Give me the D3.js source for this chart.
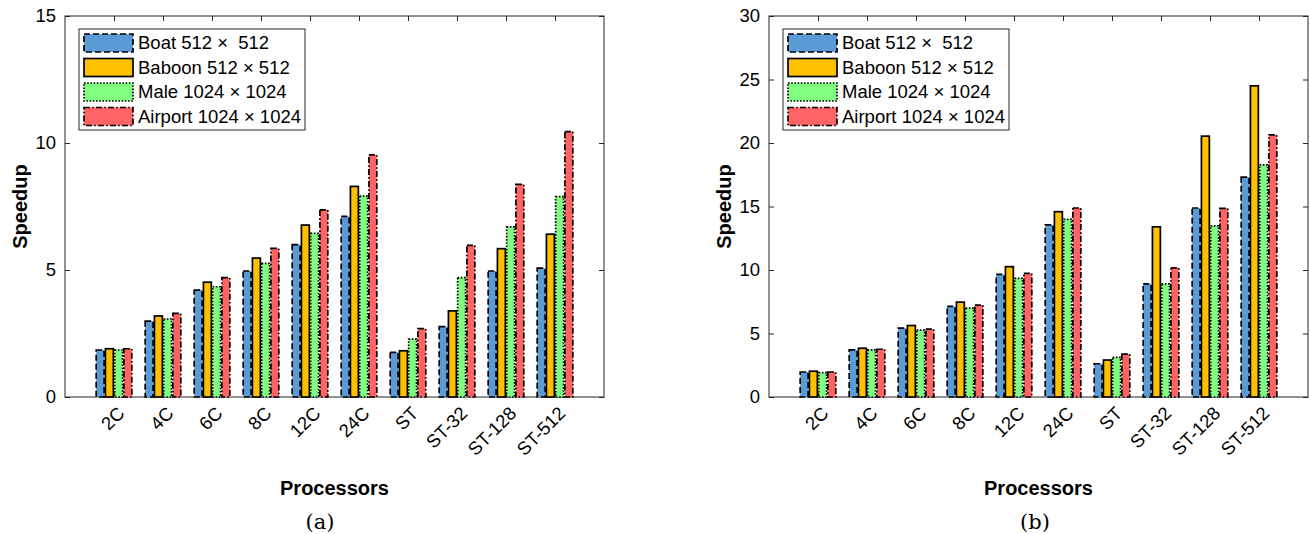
<html>
  <head>
    <title>Speedup bars</title>
    <script src="https://d3js.org/d3.v7.min.js"></script>
    <style>
      body {
        margin: 0;
        background-color: #fff;
        font-family: "Liberation Sans", Arial, sans-serif;
      }
    </style>
  </head>
  <body>
    <svg width="1310" height="534"></svg>

    <script>
      // data
      var categories = ["2C", "4C", "6C", "8C", "12C", "24C", "ST", "ST-32", "ST-128", "ST-512"];
      var seriesNames = ["Boat 512 \u00d7  512", "Baboon 512 \u00d7 512", "Male 1024 \u00d7 1024", "Airport 1024 \u00d7 1024"];

      var boatA    = [1.85, 2.99, 4.21, 4.96, 6.00, 7.11, 1.76, 2.77, 4.96, 5.07];
      var baboonA  = [1.90, 3.19, 4.52, 5.47, 6.77, 8.29, 1.82, 3.39, 5.84, 6.41];
      var maleA    = [1.85, 3.07, 4.34, 5.26, 6.44, 7.91, 2.28, 4.70, 6.70, 7.89];
      var airportA = [1.90, 3.29, 4.70, 5.85, 7.37, 9.53, 2.69, 5.97, 8.37, 10.45];

      var boatB    = [1.97, 3.71, 5.42, 7.13, 9.65, 13.56, 2.62, 8.90, 14.88, 17.32];
      var baboonB  = [2.03, 3.84, 5.63, 7.47, 10.26, 14.59, 2.91, 13.40, 20.54, 24.50];
      var maleB    = [1.92, 3.71, 5.26, 7.00, 9.34, 13.99, 3.12, 8.90, 13.48, 18.27];
      var airportB = [1.97, 3.76, 5.34, 7.24, 9.73, 14.88, 3.38, 10.17, 14.86, 20.64];

      var yTicksA = [0, 5, 10, 15];
      var yTicksB = [0, 5, 10, 15, 20, 25, 30];

      // bar looks: fill + edge dash per series
      var fills = ["#5b9bd5", "#ffc000", "#80ff80", "#ff6363"];
      var dashes = ["6,3", null, "1.6,1.6", "6,2.2,1.6,2.2"];

      var axisColor = "#262626";
      var svg = d3.select("svg");

      var drawPanel = function(opts){
        var left = opts.left, top = 16, width = 539, height = 381;
        var g = svg.append("g").attr("transform", "translate(" + left + "," + top + ")");

        var x = d3.scaleLinear().domain([0, categories.length + 1]).range([0, width]);
        var y = d3.scaleLinear().domain([0, opts.ymax]).range([height, 0]);
        var inner = d3.scaleBand()
          .domain(d3.range(seriesNames.length))
          .range([-0.3636 * x(1), 0.3636 * x(1)])
          .paddingInner(0.14);

        // axes (ticks point inward, box on all four sides)
        var tickLen = 5;
        g.append("g")
          .call(d3.axisLeft(y).tickValues(opts.yTicks).tickSize(-tickLen).tickPadding(9).tickFormat(d3.format("d")))
          .call(function(a){
            a.select(".domain").remove();
            a.selectAll("text").style("font-size", "18.5px").style("font-family", "Liberation Sans, Arial, sans-serif").attr("fill", "#000");
            a.selectAll("line").attr("stroke", axisColor);
          });
        g.append("g")
          .attr("transform", "translate(" + width + ",0)")
          .call(d3.axisRight(y).tickValues(opts.yTicks).tickSize(-tickLen).tickFormat(""))
          .call(function(a){ a.select(".domain").remove(); a.selectAll("line").attr("stroke", axisColor); });

        var catTicks = d3.range(1, categories.length + 1);
        g.append("g")
          .call(d3.axisTop(x).tickValues(catTicks).tickSize(-tickLen).tickFormat(""))
          .call(function(a){ a.select(".domain").remove(); a.selectAll("line").attr("stroke", axisColor); });
        g.append("g")
          .attr("transform", "translate(0," + height + ")")
          .call(d3.axisBottom(x).tickValues(catTicks).tickSize(-tickLen).tickFormat(""))
          .call(function(a){ a.select(".domain").remove(); a.selectAll("line").attr("stroke", axisColor); });

        g.append("rect")
          .attr("width", width).attr("height", height)
          .attr("fill", "none").attr("stroke", axisColor).attr("stroke-width", 1);

        // rotated category labels
        g.selectAll(".catlabel")
          .data(categories)
          .enter().append("text")
          .attr("class", "catlabel")
          .attr("transform", function(d, i){ return "translate(" + (x(i + 1) + 7) + "," + (height + 13) + ") rotate(-45)"; })
          .attr("text-anchor", "end")
          .attr("dy", "0.35em")
          .style("font-size", "18.5px")
          .text(function(d){ return d; });

        // bars
        opts.series.forEach(function(vals, s){
          g.selectAll(".bar" + s)
            .data(vals)
            .enter().append("rect")
            .attr("x", function(d, i){ return x(i + 1) + inner(s); })
            .attr("y", function(d){ return y(d); })
            .attr("width", inner.bandwidth())
            .attr("height", function(d){ return y(0) - y(d); })
            .attr("fill", fills[s])
            .attr("stroke", "#000")
            .attr("stroke-width", 1.7)
            .attr("stroke-dasharray", dashes[s]);
        });

        // legend
        var lg = g.append("g").attr("transform", "translate(14,13)");
        lg.append("rect")
          .attr("width", 226).attr("height", 101)
          .attr("fill", "#fff").attr("stroke", axisColor).attr("stroke-width", 1);
        seriesNames.forEach(function(name, s){
          var row = lg.append("g").attr("transform", "translate(5," + (5 + s * 24.5) + ")");
          row.append("rect")
            .attr("width", 49).attr("height", 18)
            .attr("fill", fills[s]).attr("stroke", "#000").attr("stroke-width", 1.7)
            .attr("stroke-dasharray", dashes[s]);
          row.append("text")
            .attr("x", 54).attr("y", 9).attr("dy", "0.35em")
            .style("font-size", "18.5px")
            .style("white-space", "pre")
            .text(name);
        });

        // axis titles
        svg.append("text")
          .attr("transform", "translate(" + (left - 38) + "," + (top + height / 2) + ") rotate(-90)")
          .attr("text-anchor", "middle")
          .style("font-size", "20px").style("font-weight", "bold")
          .text("Speedup");
        svg.append("text")
          .attr("x", left + width / 2).attr("y", top + height + 98)
          .attr("text-anchor", "middle")
          .style("font-size", "20px").style("font-weight", "bold")
          .text("Processors");
        svg.append("text")
          .attr("x", opts.captionX).attr("y", 529)
          .attr("text-anchor", "middle")
          .style("font-family", "DejaVu Serif, Liberation Serif, serif")
          .style("font-size", "21px")
          .text(opts.caption);
      }

      drawPanel({left: 65, ymax: 15, yTicks: yTicksA, series: [boatA, baboonA, maleA, airportA], caption: "(a)", captionX: 320});
      drawPanel({left: 769, ymax: 30, yTicks: yTicksB, series: [boatB, baboonB, maleB, airportB], caption: "(b)", captionX: 1035});
    </script>
  </body>
</html>
